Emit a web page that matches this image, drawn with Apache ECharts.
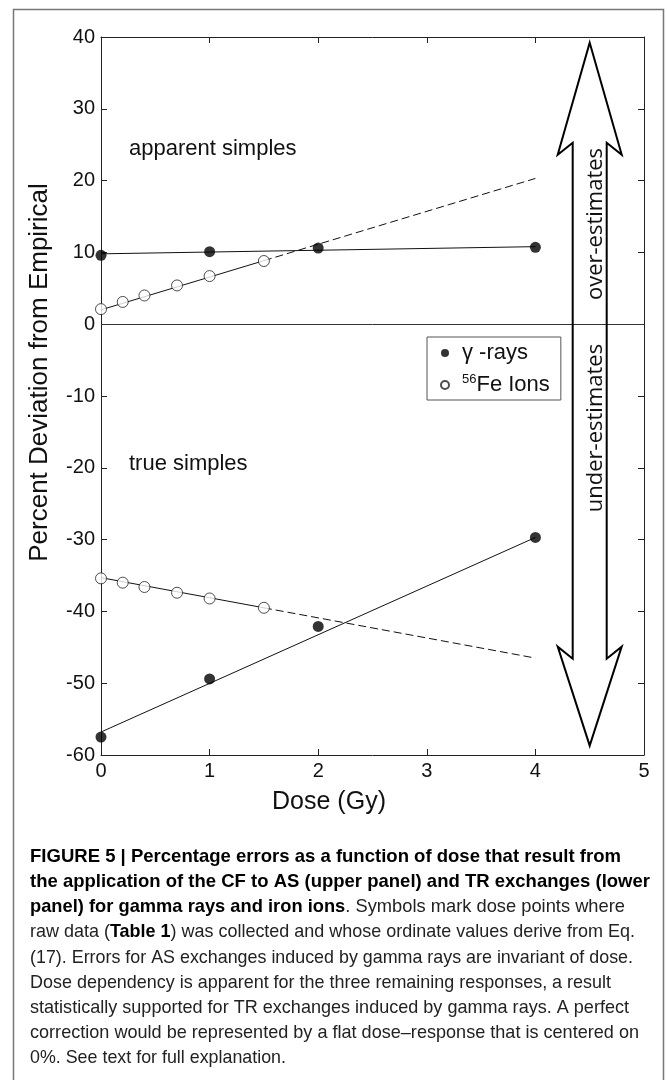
<!DOCTYPE html>
<html>
<head>
<meta charset="utf-8">
<script src="https://cdn.jsdelivr.net/npm/echarts/dist/echarts.min.js"></script>
<style>
html,body{margin:0;padding:0;background:#fff;}
#chart{width:667px;height:1080px;}
</style>
</head>
<body>
<div id="chart"></div>
<script>
// ---- data ----
const gammaDose = [0, 1, 2, 4];
const gammaApparent = [9.6, 10.1, 10.6, 10.7];
const gammaTrue = [-57.5, -49.4, -42.1, -29.7];
const ironDose = [0, 0.2, 0.4, 0.7, 1.0, 1.5];
const ironApparent = [2.1, 3.1, 4.0, 5.4, 6.7, 8.8];
const ironTrue = [-35.4, -36.0, -36.6, -37.4, -38.2, -39.5];
// fitted lines (end points)
const fitDose = [0, 4];
const fitGammaApparent = [9.8, 10.8];
const fitGammaTrue = [-56.8, -29.7];
const fitIronDoseSolid = [0, 1.5];
const fitIronDoseDashed = [1.5, 4];
const fitIronApparentSolid = [2.0, 8.85];
const fitIronApparentDashed = [8.85, 20.3];
const fitIronTrueSolid = [-35.3, -39.5];
const fitIronTrueDashed = [-39.5, -46.5];
// axes
const xTicks = [0, 1, 2, 3, 4, 5];
const yTicks = [-60, -50, -40, -30, -20, -10, 0, 10, 20, 30, 40];
// arrow (dose position, top/bottom values)
const arrowDose = 4.5;
const arrowTop = 39.2;
const arrowBottom = -58.7;

const pairs = (xs, ys) => xs.map((x, i) => [x, ys[i]]);

const FONT = 'Liberation Sans';
const INK = '#111';
const chart = echarts.init(document.getElementById('chart'), null, {renderer: 'canvas'});

const fitLine = (data, dashed) => ({
  type: 'line', data: data, symbol: 'none', silent: true, z: 2,
  lineStyle: {color: '#111', width: 1, type: dashed ? [8, 4] : 'solid'},
  animation: false
});

chart.setOption({
  animation: false,
  backgroundColor: '#fff',
  grid: {left: 101, right: 23, top: 37, bottom: 325, containLabel: false, outerBoundsMode: 'none'},
  legend: {
    orient: 'vertical', left: 427, top: 337,
    data: ['γ -rays', 'Fe Ions'],
    borderColor: '#555', borderWidth: 1, borderRadius: 0,
    padding: [5, 11, 4, 13], itemGap: 9,
    itemWidth: 24, itemHeight: 8,
    formatter: function (name) {
      return name === 'Fe Ions' ? '{sup|56}{t|Fe Ions}' : '{t|' + name + '}';
    },
    textStyle: {
      rich: {
        t: {fontSize: 22, fontFamily: FONT, color: INK, lineHeight: 24},
        sup: {fontSize: 13, fontFamily: FONT, color: INK, verticalAlign: 'top', lineHeight: 14}
      }
    }
  },
  xAxis: [
    {
      type: 'value', min: xTicks[0], max: xTicks[xTicks.length - 1], interval: 1,
      position: 'bottom',
      name: 'Dose (Gy)', nameLocation: 'middle', nameGap: 35, nameMoveOverlap: false,
      nameTextStyle: {fontSize: 25, fontFamily: FONT, color: INK, padding: [0, 87, 0, 0]},
      axisLine: {show: true, onZero: false, lineStyle: {color: '#222', width: 1}},
      axisTick: {show: true, inside: true, length: 6, lineStyle: {color: '#222'}},
      axisLabel: {fontSize: 20, fontFamily: FONT, color: INK, margin: 6},
      splitLine: {show: false}
    },
    {
      type: 'value', min: xTicks[0], max: xTicks[xTicks.length - 1], interval: 1,
      position: 'top',
      axisLine: {show: true, onZero: false, lineStyle: {color: '#222', width: 1}},
      axisTick: {show: true, inside: true, length: 6, lineStyle: {color: '#222'}},
      axisLabel: {show: false}, splitLine: {show: false}
    }
  ],
  yAxis: [
    {
      type: 'value', min: yTicks[0], max: yTicks[yTicks.length - 1], interval: 10,
      position: 'left',
      name: 'Percent Deviation from Empirical', nameLocation: 'middle', nameGap: 48, nameMoveOverlap: false,
      nameTextStyle: {fontSize: 26, fontFamily: FONT, color: INK, padding: [0, 0, 0, 47]},
      axisLine: {show: true, onZero: false, lineStyle: {color: '#222', width: 1}},
      axisTick: {show: true, inside: true, length: 6, lineStyle: {color: '#222'}},
      axisLabel: {fontSize: 20, fontFamily: FONT, color: INK, margin: 6},
      splitLine: {show: false}
    },
    {
      type: 'value', min: yTicks[0], max: yTicks[yTicks.length - 1], interval: 10,
      position: 'right',
      axisLine: {show: true, onZero: false, lineStyle: {color: '#222', width: 1}},
      axisTick: {show: true, inside: true, length: 6, lineStyle: {color: '#222'}},
      axisLabel: {show: false}, splitLine: {show: false}
    }
  ],
  series: [
    Object.assign(fitLine(pairs(fitDose, fitGammaApparent), false), {
      markLine: {
        silent: true, symbol: 'none', label: {show: false},
        lineStyle: {color: '#333', width: 1, type: 'solid'},
        data: [{yAxis: 0}], animation: false
      }
    }),
    fitLine(pairs(fitDose, fitGammaTrue), false),
    fitLine(pairs(fitIronDoseSolid, fitIronApparentSolid), false),
    fitLine(pairs(fitIronDoseDashed, fitIronApparentDashed), true),
    fitLine(pairs(fitIronDoseSolid, fitIronTrueSolid), false),
    fitLine(pairs(fitIronDoseDashed, fitIronTrueDashed), true),
    {
      name: 'γ -rays', type: 'scatter', data: pairs(gammaDose, gammaApparent),
      symbol: 'circle', symbolSize: 11, z: 5,
      itemStyle: {color: '#000', borderColor: '#000', borderWidth: 0}
    },
    {
      name: 'γ -rays', type: 'scatter', data: pairs(gammaDose, gammaTrue),
      symbol: 'circle', symbolSize: 11, z: 5,
      itemStyle: {color: '#000', borderColor: '#000', borderWidth: 0}
    },
    {
      name: 'Fe Ions', type: 'scatter', data: pairs(ironDose, ironApparent),
      symbol: 'circle', symbolSize: 11, z: 5,
      itemStyle: {color: '#fff', borderColor: '#222', borderWidth: 1}
    },
    {
      name: 'Fe Ions', type: 'scatter', data: pairs(ironDose, ironTrue),
      symbol: 'circle', symbolSize: 11, z: 5,
      itemStyle: {color: '#fff', borderColor: '#222', borderWidth: 1}
    }
  ]
});

// ---- annotations ----
const g = [];
// outer figure frame
g.push({type: 'rect', silent: true, z: 0,
  shape: {x: 13.5, y: 9.5, width: 650, height: 1100},
  style: {fill: 'none', stroke: '#777', lineWidth: 1.5}});

g.push({type: 'text', x: 129, y: 149, z: 10,
  style: {text: 'apparent simples', fontSize: 22, fontFamily: FONT, fill: INK, align: 'left', verticalAlign: 'middle'}});
g.push({type: 'text', x: 129, y: 464, z: 10,
  style: {text: 'true simples', fontSize: 22, fontFamily: FONT, fill: INK, align: 'left', verticalAlign: 'middle'}});

// double-headed arrow
const arrowCx = chart.convertToPixel({xAxisIndex: 0}, arrowDose);
const arrowTopPx = chart.convertToPixel({yAxisIndex: 0}, arrowTop);
const arrowBotPx = chart.convertToPixel({yAxisIndex: 0}, arrowBottom);
const wing = 32, shaft = 17;
g.push({type: 'polygon', z: 8, silent: true,
  shape: {points: [
    [arrowCx, arrowTopPx], [arrowCx + wing, arrowTopPx + 112], [arrowCx + shaft, arrowTopPx + 100],
    [arrowCx + shaft, arrowBotPx - 87], [arrowCx + wing, arrowBotPx - 99], [arrowCx, arrowBotPx],
    [arrowCx - wing, arrowBotPx - 99], [arrowCx - shaft, arrowBotPx - 87],
    [arrowCx - shaft, arrowTopPx + 100], [arrowCx - wing, arrowTopPx + 112]
  ]},
  style: {fill: 'none', stroke: '#000', lineWidth: 2, lineJoin: 'miter'}});
g.push({type: 'text', x: arrowCx + 6, y: 224, rotation: Math.PI / 2, z: 9,
  style: {text: 'over-estimates', fontSize: 22, fontFamily: 'Open Sans', fill: INK, align: 'center', verticalAlign: 'middle'}});
g.push({type: 'text', x: arrowCx + 6, y: 428, rotation: Math.PI / 2, z: 9,
  style: {text: 'under-estimates', fontSize: 22, fontFamily: 'Open Sans', fill: INK, align: 'center', verticalAlign: 'middle'}});

// caption
const CAP_SIZE = 19;
const CAP_LEFT = 30;
const capLines = [
  {y: 857, right: 621, segs: [['b', 'FIGURE 5 | Percentage errors as a function of dose that result from']]},
  {y: 882, right: 650, segs: [['b', 'the application of the CF to AS (upper panel) and TR exchanges (lower']]},
  {y: 907, right: 625, segs: [['b', 'panel) for gamma rays and iron ions'], ['r', '. Symbols mark dose points where']]},
  {y: 932, right: 635, segs: [['r', 'raw data ('], ['b', 'Table 1'], ['r', ') was collected and whose ordinate values derive from Eq.']]},
  {y: 958, right: 633, segs: [['r', '(17). Errors for AS exchanges induced by gamma rays are invariant of dose.']]},
  {y: 983, right: 611, segs: [['r', 'Dose dependency is apparent for the three remaining responses, a result']]},
  {y: 1008, right: 629, segs: [['r', 'statistically supported for TR exchanges induced by gamma rays. A perfect']]},
  {y: 1033, right: 639, segs: [['r', 'correction would be represented by a flat dose\u2013response that is centered on']]},
  {y: 1058, right: 286, segs: [['r', '0%. See text for full explanation.']]}
];
const measureCtx = document.createElement('canvas').getContext('2d');
capLines.forEach(function (line) {
  const widths = line.segs.map(function (s) {
    measureCtx.font = (s[0] === 'b' ? 'bold ' : '') + CAP_SIZE + 'px "' + FONT + '"';
    return measureCtx.measureText(s[1]).width;
  });
  const total = widths.reduce(function (a, b) { return a + b; }, 0);
  const sx = (line.right - CAP_LEFT) / total;
  let x = CAP_LEFT;
  line.segs.forEach(function (s, i) {
    g.push({type: 'text', x: x, y: line.y, scaleX: sx, z: 10,
      style: {text: s[1], fontSize: CAP_SIZE, fontFamily: FONT, fontWeight: s[0] === 'b' ? 'bold' : 'normal',
        fill: s[0] === 'b' ? '#000' : '#222', align: 'left', verticalAlign: 'middle'}});
    x += widths[i] * sx;
  });
});

chart.setOption({graphic: g});
</script>
</body>
</html>
